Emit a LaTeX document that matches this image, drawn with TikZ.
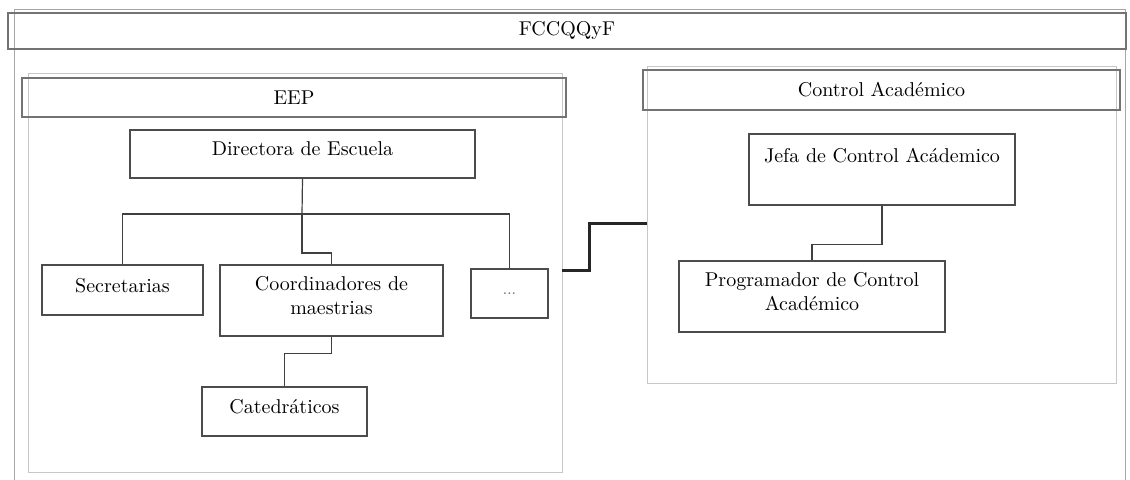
\documentclass[tikz,border=0pt]{standalone}
\usepackage{tikz}
\tikzset{box/.style={draw=black!70,semithick,align=center,inner sep=2pt},
  hdr/.style={box,draw=black!55},
  frm/.style={draw=black!22}}
\def\lnk{\draw[black!75,semithick]}
\def\up{\\[-7pt]\mbox{}}

\begin{document}
\begin{tikzpicture}[x=0.5pt,y=-0.5pt]
        \useasboundingbox (0,0) rectangle (1130,480);
        % outer frame and headers
        \draw[black!35] (14,480) |- (1125,9) -- (1125,480);
        \node[hdr,minimum width=559pt,minimum height=18pt] (fac) at (567,31) {FCCQQyF};
        \draw[frm] (28,73) rectangle (562,472);
        \node[hdr,minimum width=272pt,minimum height=19.5pt] (eep) at (294,97.5) {EEP};
        \draw[frm] (647,66) rectangle (1116,383);
        \node[hdr,minimum width=238.5pt,minimum height=20pt] (ca) at (881.5,90) {Control Académico};
        % EEP
        \node[box,minimum width=172.5pt,minimum height=24pt] (dir) at (302.5,154) {Directora de Escuela\up};
        \node[box,minimum width=80.5pt,minimum height=25pt] (sec) at (122.5,290) {Secretarias\up};
        \node[box,minimum width=111.5pt,minimum height=35.5pt] (coo) at (331.5,300.5) {Coordinadores de\\maestrias\up};
        \node[box,minimum width=38.5pt,minimum height=24.5pt] (dots) at (509.5,293.5) {\color{black!60}\tiny\textbf{...}};
        \node[box,minimum width=82.5pt,minimum height=24.5pt] (cat) at (284.5,411.5) {Catedráticos\up};
        \coordinate (bar) at (302,214);
        \lnk (dir.south) -- (bar);
        \lnk (sec.north) |- (bar) -| (dots.north);
        \lnk (bar) -- (302,253) -| (coo.north);
        \lnk (coo.south) -- ++(0,17) -| (cat.north);
        % Control Academico
        \node[box,minimum width=133pt,minimum height=35.5pt] (jef) at (882,169.5) {Jefa de Control Acádemico\\[2pt]\mbox{}};
        \node[box,minimum width=133pt,minimum height=35.5pt] (pro) at (812,296.5) {Programador de Control\\Académico\up};
        \lnk (jef.south) -- ++(0,39) -| (pro.north);
        % link between units
        \coordinate (l) at (562,271);
        \coordinate (r) at (647,224);
        \draw[black!85,line width=1.5pt] (l) -- (589,271) |- (r);
\end{tikzpicture}
\end{document}
